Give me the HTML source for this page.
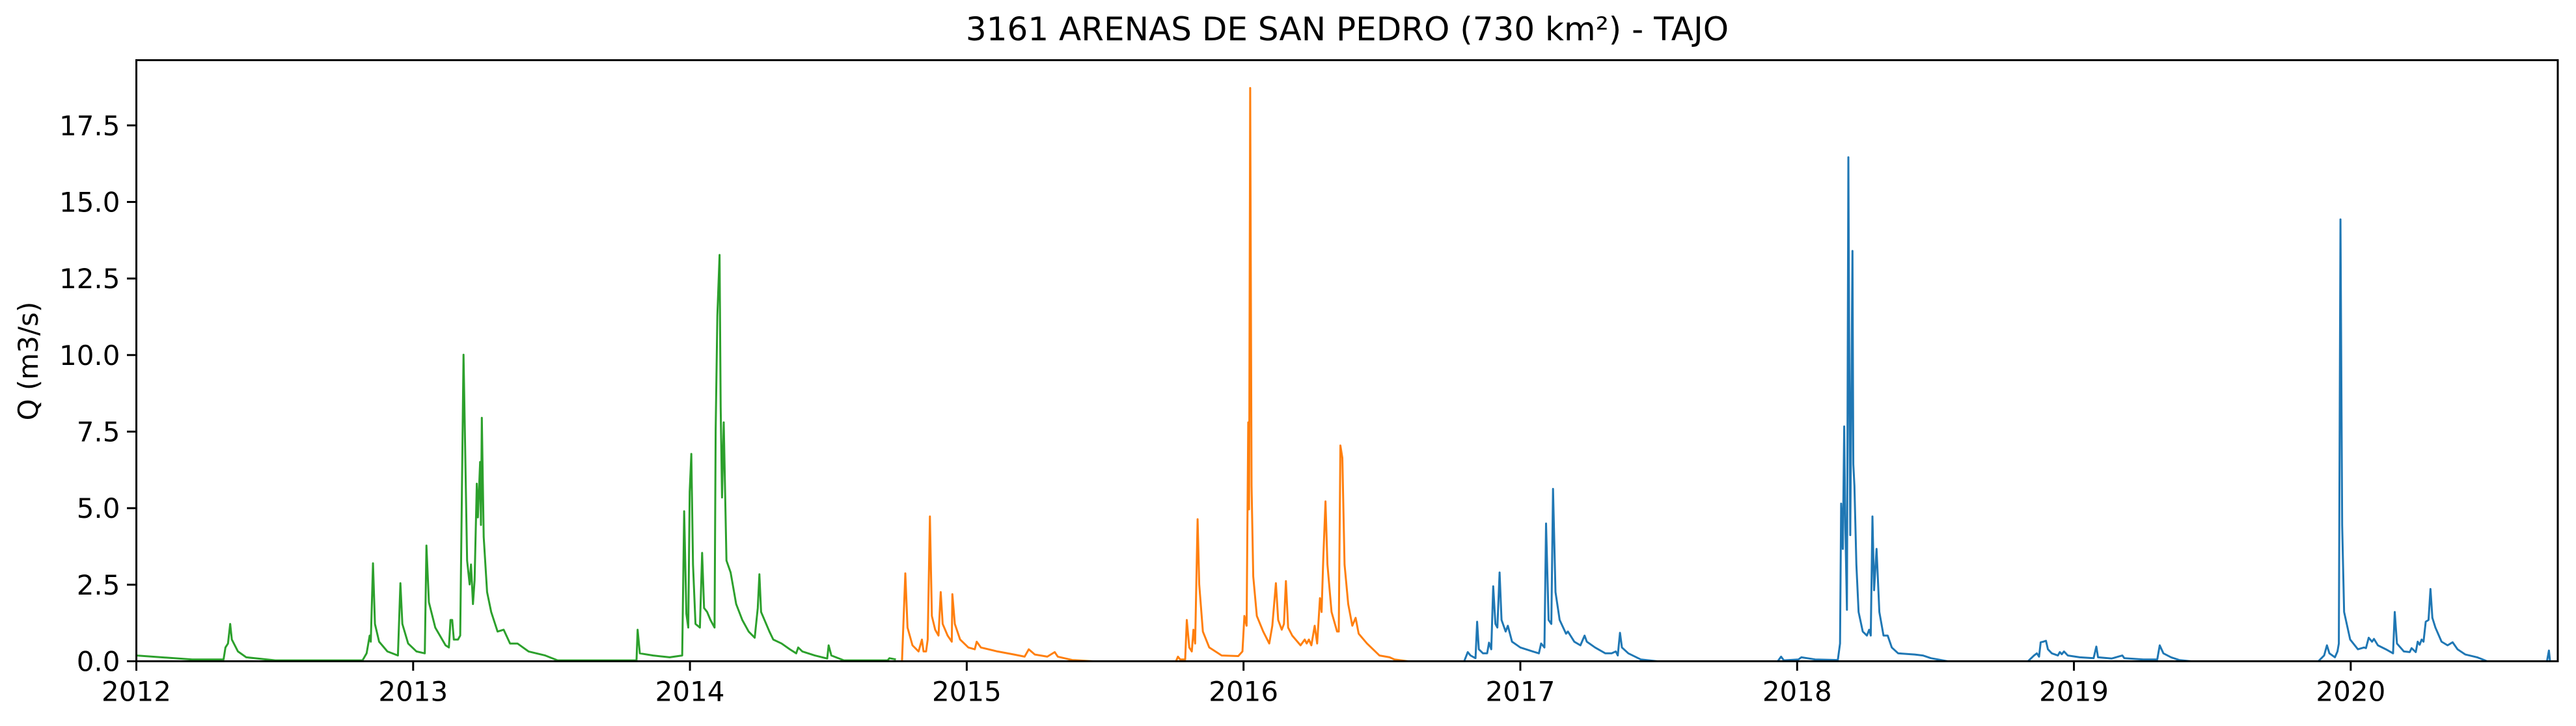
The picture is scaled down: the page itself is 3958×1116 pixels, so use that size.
<!DOCTYPE html>
<html><head><meta charset="utf-8"><style>
html,body{margin:0;padding:0;background:#fff;}
svg{display:block;}
text{font-family:"DejaVu Sans","Liberation Sans",sans-serif;fill:#000;}
</style></head><body>
<svg id="chart" width="3958" height="1116" viewBox="0 0 3958 1116" xmlns="http://www.w3.org/2000/svg">
<rect x="0" y="0" width="3958" height="1116" fill="#fff"/>
<text x="2070" y="62" font-size="50" text-anchor="middle">3161 ARENAS DE SAN PEDRO (730 km²) - TAJO</text>
<text x="0" y="0" font-size="42" text-anchor="middle" transform="translate(58,555) rotate(-90)">Q (m3/s)</text>
<g id="series"></g>
<g id="axes"></g>
</svg>
<script>
const yTicks = [0, 2.5, 5, 7.5, 10, 12.5, 15, 17.5];
const yTickLabels = ["0.0","2.5","5.0","7.5","10.0","12.5","15.0","17.5"];
const xTicks = [2012,2013,2014,2015,2016,2017,2018,2019,2020];
const xTickLabels = ["2012","2013","2014","2015","2016","2017","2018","2019","2020"];

const greenT = [2012.000,2012.202,2012.315,2012.322,2012.331,2012.339,2012.345,2012.367,2012.397,2012.502,2012.817,2012.832,2012.843,2012.847,2012.855,2012.862,2012.877,2012.907,2012.945,2012.954,2012.961,2012.982,2013.012,2013.042,2013.048,2013.057,2013.080,2013.117,2013.129,2013.135,2013.141,2013.147,2013.162,2013.170,2013.182,2013.195,2013.204,2013.209,2013.216,2013.222,2013.230,2013.234,2013.242,2013.245,2013.248,2013.255,2013.267,2013.282,2013.305,2013.327,2013.350,2013.377,2013.417,2013.477,2013.522,2013.807,2013.811,2013.819,2013.867,2013.927,2013.972,2013.979,2013.987,2013.994,2013.999,2014.005,2014.011,2014.020,2014.036,2014.044,2014.051,2014.062,2014.074,2014.089,2014.093,2014.099,2014.107,2014.111,2014.116,2014.122,2014.132,2014.147,2014.167,2014.189,2014.212,2014.234,2014.245,2014.251,2014.257,2014.287,2014.301,2014.331,2014.361,2014.384,2014.391,2014.406,2014.451,2014.496,2014.501,2014.511,2014.556,2014.714,2014.721,2014.744];
const greenQ = [0.19,0.06,0.06,0.45,0.58,1.22,0.71,0.32,0.13,0.03,0.03,0.26,0.84,0.64,3.20,1.22,0.64,0.32,0.19,2.55,1.22,0.58,0.32,0.26,3.78,1.93,1.10,0.52,0.45,1.35,1.35,0.71,0.71,0.84,10.01,3.29,2.51,3.16,1.87,2.64,5.80,4.70,6.51,4.45,7.95,4.06,2.26,1.61,0.97,1.03,0.58,0.58,0.32,0.19,0.03,0.03,1.03,0.26,0.19,0.13,0.19,4.90,1.55,1.10,5.54,6.77,3.16,1.22,1.10,3.54,1.74,1.61,1.35,1.10,7.54,11.28,13.27,8.31,5.35,7.80,3.29,2.90,1.87,1.35,0.97,0.77,1.74,2.84,1.61,0.97,0.71,0.58,0.39,0.26,0.45,0.32,0.19,0.09,0.52,0.19,0.03,0.03,0.10,0.06];

const orangeT = [2014.751,2014.766,2014.778,2014.786,2014.804,2014.826,2014.838,2014.844,2014.853,2014.859,2014.867,2014.874,2014.886,2014.898,2014.906,2014.913,2014.931,2014.946,2014.948,2014.957,2014.976,2015.006,2015.029,2015.036,2015.051,2015.111,2015.171,2015.209,2015.224,2015.246,2015.291,2015.318,2015.329,2015.381,2015.456,2015.756,2015.763,2015.771,2015.789,2015.795,2015.804,2015.813,2015.819,2015.825,2015.834,2015.840,2015.853,2015.876,2015.921,2015.981,2015.996,2016.003,2016.011,2016.017,2016.020,2016.024,2016.029,2016.035,2016.048,2016.071,2016.093,2016.104,2016.117,2016.125,2016.138,2016.146,2016.153,2016.161,2016.176,2016.206,2016.221,2016.228,2016.236,2016.245,2016.257,2016.266,2016.276,2016.282,2016.288,2016.296,2016.303,2016.318,2016.338,2016.344,2016.350,2016.357,2016.365,2016.378,2016.393,2016.405,2016.416,2016.446,2016.491,2016.528,2016.545,2016.595,2016.749];
const orangeQ = [0,0,2.87,1.10,0.52,0.32,0.71,0.32,0.32,0.71,4.73,1.48,1.03,0.84,2.26,1.22,0.84,0.64,2.19,1.22,0.71,0.45,0.39,0.64,0.45,0.32,0.22,0.15,0.39,0.22,0.15,0.30,0.15,0.04,0,0,0.15,0.06,0.06,1.35,0.45,0.32,1.03,0.58,4.64,2.51,0.97,0.45,0.19,0.17,0.32,1.48,1.16,7.80,4.96,18.72,5.73,2.77,1.48,0.97,0.58,1.16,2.55,1.35,1.03,1.22,2.62,1.10,0.84,0.52,0.71,0.58,0.71,0.52,1.16,0.58,2.06,1.61,3.35,5.22,3.16,1.61,0.97,0.97,7.05,6.64,3.16,1.87,1.16,1.42,0.90,0.58,0.19,0.13,0.06,0,0];

const blueT = [2016.752,2016.797,2016.810,2016.820,2016.838,2016.844,2016.850,2016.865,2016.880,2016.887,2016.895,2016.902,2016.910,2016.917,2016.925,2016.932,2016.947,2016.955,2016.970,2017.000,2017.045,2017.067,2017.075,2017.087,2017.093,2017.102,2017.112,2017.118,2017.127,2017.142,2017.165,2017.172,2017.195,2017.217,2017.232,2017.240,2017.270,2017.307,2017.330,2017.345,2017.352,2017.360,2017.367,2017.390,2017.435,2017.495,2017.930,2017.942,2017.952,2018.005,2018.015,2018.065,2018.147,2018.155,2018.159,2018.165,2018.170,2018.174,2018.180,2018.185,2018.189,2018.192,2018.200,2018.203,2018.207,2018.214,2018.222,2018.237,2018.252,2018.260,2018.266,2018.272,2018.278,2018.287,2018.297,2018.312,2018.327,2018.342,2018.365,2018.425,2018.454,2018.484,2018.544,2018.834,2018.856,2018.866,2018.874,2018.880,2018.889,2018.899,2018.906,2018.920,2018.942,2018.949,2018.956,2018.964,2018.978,2019.021,2019.071,2019.081,2019.087,2019.136,2019.175,2019.182,2019.251,2019.301,2019.310,2019.323,2019.351,2019.380,2019.423,2019.883,2019.904,2019.914,2019.923,2019.943,2019.952,2019.957,2019.963,2019.969,2019.976,2019.998,2020.026,2020.048,2020.055,2020.065,2020.077,2020.084,2020.098,2020.127,2020.153,2020.159,2020.167,2020.192,2020.213,2020.220,2020.235,2020.242,2020.249,2020.256,2020.263,2020.271,2020.281,2020.288,2020.295,2020.306,2020.328,2020.350,2020.368,2020.386,2020.414,2020.457,2020.493,2020.709,2020.716,2020.720,2020.730];
const blueQ = [0,0,0.30,0.19,0.10,1.29,0.39,0.26,0.26,0.61,0.39,2.45,1.22,1.10,2.90,1.35,0.97,1.16,0.64,0.45,0.32,0.26,0.58,0.45,4.50,1.35,1.22,5.63,2.26,1.35,0.90,0.97,0.64,0.52,0.84,0.64,0.45,0.26,0.26,0.32,0.19,0.93,0.45,0.26,0.06,0,0,0.15,0.03,0.06,0.13,0.06,0.04,0.58,5.15,3.67,7.67,4.45,1.68,16.46,8.31,4.12,13.40,6.44,5.73,3.16,1.61,0.97,0.84,1.03,0.84,4.73,2.32,3.67,1.61,0.84,0.84,0.45,0.26,0.22,0.19,0.10,0,0,0.19,0.26,0.15,0.62,0.64,0.67,0.39,0.26,0.19,0.30,0.23,0.32,0.19,0.13,0.10,0.48,0.13,0.09,0.19,0.10,0.06,0.06,0.52,0.26,0.13,0.04,0,0,0.19,0.52,0.26,0.13,0.32,0.58,14.43,4.45,1.61,0.71,0.39,0.45,0.43,0.77,0.64,0.73,0.52,0.39,0.26,1.61,0.58,0.32,0.30,0.43,0.30,0.64,0.54,0.71,0.64,1.29,1.35,2.36,1.42,1.10,0.64,0.52,0.62,0.39,0.22,0.13,0,0,0.35,0,0];

const L=209.5, R=3930, T=92.5, B=1016.5;
const X0=2012, X1=2020.748, Y0=0, Y1=19.63;
const NS='http://www.w3.org/2000/svg';
function xs(v){return L+(v-X0)/(X1-X0)*(R-L);}
function ys(v){return B-(v-Y0)/(Y1-Y0)*(B-T);}
function mk(tag,attrs,parent){const e=document.createElementNS(NS,tag);for(const k in attrs)e.setAttribute(k,attrs[k]);parent.appendChild(e);return e;}

const sg=document.getElementById('series');
const defs=mk('defs',{},sg);
const cp=mk('clipPath',{id:'clip'},defs);
mk('rect',{x:L,y:T,width:R-L,height:B-T},cp);
function drawSeries(ts,qs,color,name){
  let d='';
  for(let i=0;i<ts.length;i++){d+=(i?'L':'M')+xs(ts[i]).toFixed(1)+','+ys(qs[i]).toFixed(1);}
  const p=mk('path',{d:d,fill:'none',stroke:color,'stroke-width':3,'stroke-linejoin':'round','clip-path':'url(#clip)'},sg);
  
  
}
drawSeries(greenT,greenQ,'#2ca02c','series-2012-2014');
drawSeries(orangeT,orangeQ,'#ff7f0e','series-2014-2016');
drawSeries(blueT,blueQ,'#1f77b4','series-2016-2020');

const ag=document.getElementById('axes');
const frame=mk('rect',{x:L,y:T,width:R-L,height:B-T,fill:'none',stroke:'#000','stroke-width':3},ag);


yTicks.forEach((v,i)=>{
  const y=ys(v);
  const t=mk('line',{x1:L-14.5,x2:L,y1:y,y2:y,stroke:'#000','stroke-width':3},ag);
  
  
  const lb=mk('text',{x:L-25,y:y+15,'font-size':42,'text-anchor':'end'},ag);
  lb.textContent=yTickLabels[i];
  
  
});
xTicks.forEach((v,i)=>{
  const x=xs(v);
  const t=mk('line',{x1:x,x2:x,y1:B,y2:B+14.5,stroke:'#000','stroke-width':3},ag);
  
  
  const lb=mk('text',{x:x,y:B+61,'font-size':42,'text-anchor':'middle'},ag);
  lb.textContent=xTickLabels[i];
  
  
});
</script>
</body></html>
